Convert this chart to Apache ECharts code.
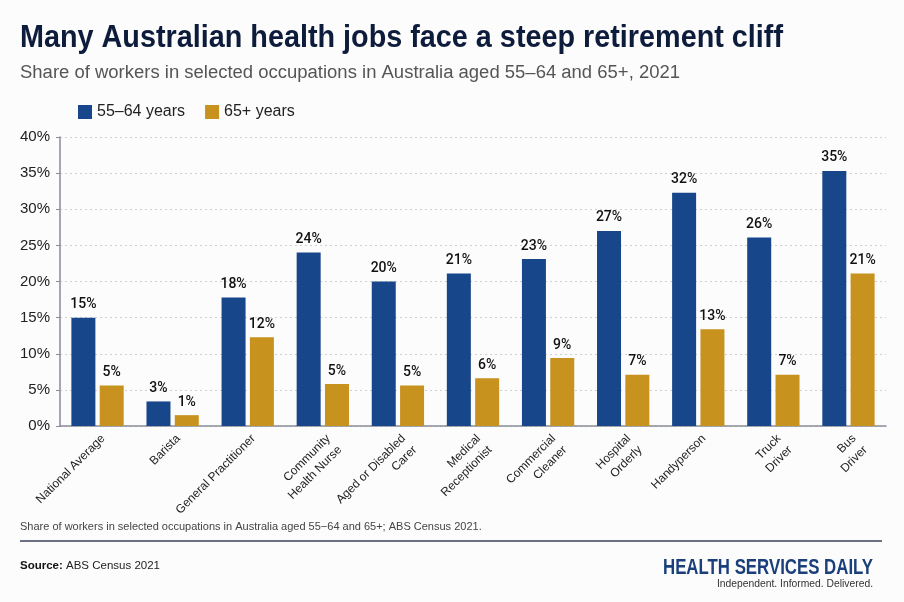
<!DOCTYPE html>
<html>
<head>
<meta charset="utf-8">
<title>Retirement cliff</title>
<script src="https://cdn.jsdelivr.net/npm/echarts@6/dist/echarts.min.js"></script>
<style>
  html, body { margin: 0; padding: 0; background: #fcfcfc; }
  #chart { width: 904px; height: 602px; }
</style>
</head>
<body>
<div id="chart"></div>
<script>
// occupations on the x axis
var occupations = ['National Average', 'Barista', 'General Practitioner', 'Community\nHealth Nurse',
    'Aged or Disabled\nCarer', 'Medical\nReceptionist', 'Commercial\nCleaner', 'Hospital\nOrderly',
    'Handyperson', 'Truck\nDriver', 'Bus\nDriver'];
// bar heights
var aged5564 = [15.0, 3.4, 17.8, 24.0, 20.0, 21.1, 23.1, 27.0, 32.3, 26.1, 35.3];
var aged65 = [5.6, 1.5, 12.3, 5.8, 5.6, 6.6, 9.4, 7.1, 13.4, 7.1, 21.1];
// printed labels above the bars
var labels5564 = [15, 3, 18, 24, 20, 21, 23, 27, 32, 26, 35];
var labels65 = [5, 1, 12, 5, 5, 6, 9, 7, 13, 7, 21];
var yTicks = [0, 40, 5]; // min, max, step

var blue = '#17468a';
var gold = '#c8921f';
var font = 'Liberation Sans, Arial, sans-serif';

// the reference uses a condensed face; squeeze a normal one to the same width
var measureCtx = document.createElement('canvas').getContext('2d');
function squeeze(text, fontStr, width) {
    measureCtx.font = fontStr;
    return width / measureCtx.measureText(text).width;
}

var titleText = 'Many Australian health jobs face a steep retirement cliff';
var titleFont = 'bold 32px "Liberation Sans"';
var subText = 'Share of workers in selected occupations in Australia aged 55–64 and 65+, 2021';
var subFont = '18px "Liberation Sans"';
var brandText = 'HEALTH SERVICES DAILY';
var brandFont = 'bold 22.5px "Liberation Sans"';
var tagText = 'Independent. Informed. Delivered.';
var tagFont = '11.5px "Liberation Sans"';

var chart = echarts.init(document.getElementById('chart'));

function barLabel(labels) {
    return {
        show: true,
        position: 'top',
        distance: 6,
        color: '#111',
        fontSize: 14,
        fontWeight: 500,
        fontFamily: 'Roboto, Liberation Sans, sans-serif',
        formatter: function (p) { return labels[p.dataIndex] + '%'; }
    };
}

var option = {
    backgroundColor: '#fcfcfc',
    animation: false,
    title: [
        {
            text: 'Share of workers in selected occupations in Australia aged 55−64 and 65+; ABS Census 2021.',
            left: 20, top: 521, padding: 0,
            textStyle: { color: '#444', fontSize: 11, fontWeight: 'normal', fontFamily: font }
        },
        {
            text: '{b|Source:} ABS Census 2021',
            left: 20, top: 560, padding: 0,
            textStyle: { color: '#222', fontSize: 11.5, fontWeight: 'normal', fontFamily: font,
                rich: { b: { fontWeight: 'bold', fontSize: 11.5, color: '#111', fontFamily: font } } }
        }
    ],
    graphic: [
        { type: 'text', x: 20, y: 22, scaleX: squeeze(titleText, titleFont, 763),
          style: { text: titleText, font: titleFont, fill: '#0e1c3c', textVerticalAlign: 'top' } },
        { type: 'text', x: 20, y: 64, scaleX: squeeze(subText, subFont, 660),
          style: { text: subText, font: subFont, fill: '#555', textVerticalAlign: 'top' } },
        { type: 'text', x: 873, y: 556, scaleX: squeeze(brandText, brandFont, 210),
          style: { text: brandText, font: brandFont, fill: '#1a3f7a', align: 'right', textVerticalAlign: 'top' } },
        { type: 'text', x: 873, y: 578, scaleX: squeeze(tagText, tagFont, 156),
          style: { text: tagText, font: tagFont, fill: '#333', align: 'right', textVerticalAlign: 'top' } },
        { type: 'rect', shape: { x: 20, y: 540, width: 862, height: 2 }, style: { fill: '#6b7085' } }
    ],
    legend: {
        left: 73, top: 99,
        itemWidth: 14, itemHeight: 14, itemGap: 20,
        icon: 'rect',
        textStyle: { color: '#222', fontSize: 16, fontFamily: font },
        data: ['55–64 years', '65+ years']
    },
    grid: { left: 60, right: 18, top: 137, bottom: 176 },
    xAxis: {
        type: 'category',
        data: occupations,
        axisLine: { lineStyle: { color: '#8a8d99', width: 1.5 } },
        axisTick: { show: false },
        axisLabel: { interval: 0, rotate: 45, color: '#222', fontSize: 12, fontFamily: font,
            lineHeight: 16, margin: 5, verticalAlign: 'top' }
    },
    yAxis: {
        type: 'value',
        min: yTicks[0], max: yTicks[1], interval: yTicks[2],
        axisLine: { show: true, lineStyle: { color: '#8a8d99', width: 1.5 } },
        axisTick: { show: true, length: 4, lineStyle: { color: '#8a8d99' } },
        axisLabel: { formatter: '{value}%', color: '#222', fontSize: 15, fontFamily: font, margin: 10 },
        splitLine: { lineStyle: { color: '#d0d0d0', type: [2, 3] } }
    },
    series: [
        {
            name: '55–64 years', type: 'bar', data: aged5564,
            barWidth: 24, barGap: '18%',
            itemStyle: { color: blue },
            label: barLabel(labels5564)
        },
        {
            name: '65+ years', type: 'bar', data: aged65,
            barWidth: 24,
            itemStyle: { color: gold },
            label: barLabel(labels65)
        }
    ]
};

chart.setOption(option);
</script>
</body>
</html>
